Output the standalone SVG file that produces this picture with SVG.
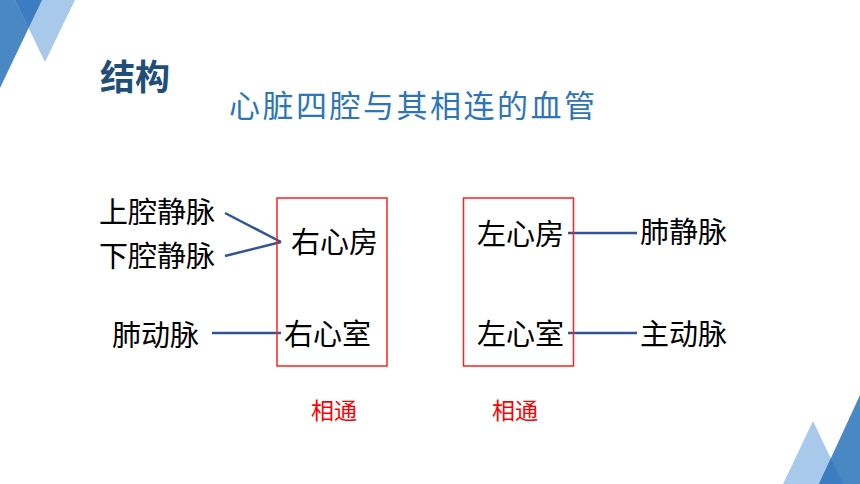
<svg xmlns="http://www.w3.org/2000/svg" width="860" height="484" viewBox="0 0 860 484">
<style>
.t{font-family:"Noto Sans CJK SC","Noto Sans",sans-serif;font-size:29px;fill:#000}
.red{font-family:"Noto Sans CJK SC",sans-serif;font-size:23px;fill:#FF0000}
.box{fill:none;stroke:#FF2020;stroke-width:1.5}
.ln{stroke:#2F5597;stroke-width:2.5;fill:none}
</style>
<rect width="860" height="484" fill="#FFFFFF"/>
<g id="decor">
<polygon points="0,0 42,0 0,88" fill="#4A88C4"/>
<polygon points="15,0 75,0 45,62" fill="#A8C9EA"/>
<polygon points="15,0 42,0 28.6,28.1" fill="#3C7CC0"/>
<polygon points="783,484 813,421 843,484" fill="#A8C9EA"/>
<polygon points="819,484 860,395 860,484" fill="#4A88C4"/>
<polygon points="819,484 843,484 830.8,458.4" fill="#3C7CC0"/>
</g>
<g id="title">
<text x="100" y="90" style="font-family:'Noto Sans CJK SC',sans-serif;font-size:35px;font-weight:bold;fill:#1F4E79">结构</text>
<text x="229" y="117" textLength="366" lengthAdjust="spacing" style="font-family:'Noto Sans CJK SC',sans-serif;font-size:31px;fill:#2E75B6">心脏四腔与其相连的血管</text>
</g>
<g id="connectors">
<line class="ln" x1="225" y1="213" x2="281" y2="242"/>
<line class="ln" x1="225" y1="256" x2="281" y2="242"/>
<line class="ln" x1="212" y1="333" x2="281" y2="333"/>
<line class="ln" x1="568" y1="233" x2="637" y2="233"/>
<line class="ln" x1="568" y1="333" x2="637" y2="333"/>
</g>
<g id="right-heart">
<rect class="box" x="277" y="198" width="110" height="168"/>
<text class="t" x="291" y="253">右心房</text>
<text class="t" x="284" y="345">右心室</text>
</g>
<g id="left-heart">
<rect class="box" x="463.5" y="198" width="110" height="168"/>
<text class="t" x="477" y="245">左心房</text>
<text class="t" x="477" y="345">左心室</text>
</g>
<g id="vena-cava-sup"><text class="t" x="99" y="223">上腔静脉</text></g>
<g id="vena-cava-inf"><text class="t" x="99" y="267">下腔静脉</text></g>
<g id="pulm-artery"><text class="t" x="112" y="346">肺动脉</text></g>
<g id="pulm-vein"><text class="t" x="640" y="243">肺静脉</text></g>
<g id="aorta"><text class="t" x="640" y="345">主动脉</text></g>
<g id="labels">
<text class="red" x="311" y="419">相通</text>
<text class="red" x="492" y="419">相通</text>
</g>
</svg>
